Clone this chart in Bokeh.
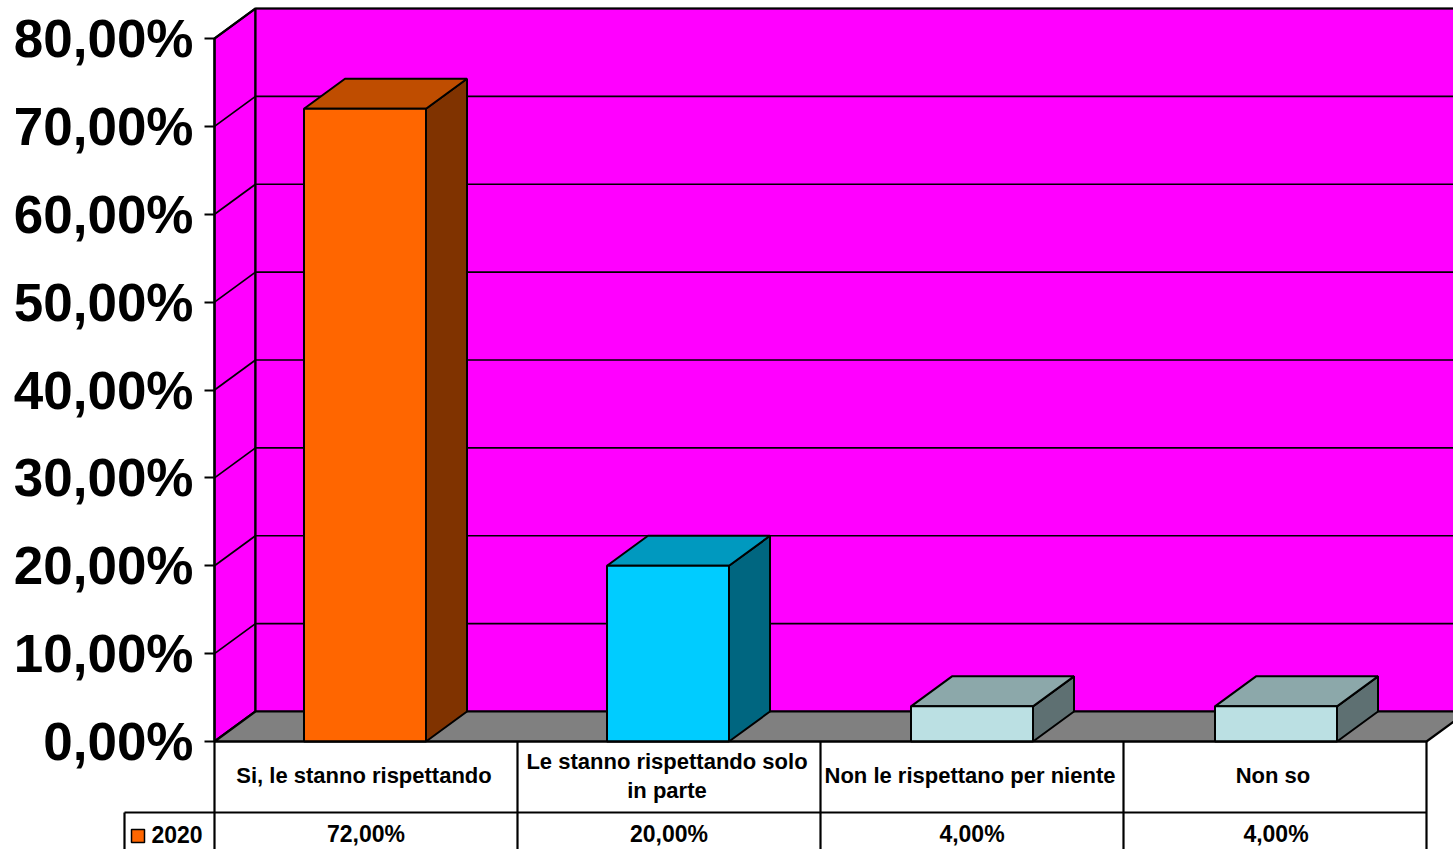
from bokeh.plotting import figure
from bokeh.models import LinearAxis, FixedTicker, Range1d
from bokeh.core.properties import value
from bokeh.embed import file_html
from bokeh.resources import INLINE

categories = ["Si, le stanno rispettando", "Le stanno rispettando solo\nin parte",
              "Non le rispettano per niente", "Non so"]
values = [72, 20, 4, 4]
value_labels = ["72,00%", "20,00%", "4,00%", "4,00%"]
series_name = "2020"
y_ticks = [0, 10, 20, 30, 40, 50, 60, 70, 80]
y_tick_labels = ["0,00%", "10,00%", "20,00%", "30,00%", "40,00%", "50,00%", "60,00%", "70,00%", "80,00%"]
front_colors = ["#FF6600", "#00CCFF", "#BBE0E3", "#BBE0E3"]
top_colors = ["#BF4D00", "#0099BF", "#8CA8AA", "#8CA8AA"]
side_colors = ["#803300", "#006680", "#5E7072", "#5E7072"]

# layout: screen pixel -> data conversion
SLOT = 303.0
UNIT = 703 / 80
PX0, PY0 = 214.0, 741.0
W, H = 1453, 849
def dx(px): return px / SLOT
def dy(px): return px / UNIT
def X(px): return (px - PX0) / SLOT
def Y(px): return (PY0 - px) / UNIT

DX, DY = dx(41), dy(30)
BAR = 122 / 303
BAR_NUDGE = [dx(-1), dx(-1), dx(0), dx(1)]
LABEL_NUDGE = [dx(-2), dx(-2), dx(-2), dx(-2)]
VALUE_NUDGE = [dx(0), dx(0), dx(0), dx(1)]
n = len(categories)
top = y_ticks[-1]

p = figure(width=W, height=H, output_backend="svg", toolbar_location=None,
           x_range=Range1d(X(0), X(W)), y_range=Range1d(Y(H), Y(0)),
           min_border=0, outline_line_color=None, background_fill_color="white",
           border_fill_color="white", x_axis_type=None, y_axis_type=None)
p.grid.visible = False

LW = 2.2
# walls and floor
p.patch([0, DX, DX, 0], [0, DY, top + DY, top], fill_color="#FF00FF", line_color="black", line_width=LW)
p.patch([DX, n + DX, n + DX, DX], [DY, DY, top + DY, top + DY], fill_color="#FF00FF", line_color="black", line_width=LW)
p.segment([0] * 8, y_ticks[1:], [DX] * 8, [t + DY for t in y_ticks[1:]], line_color="black", line_width=1.7)
p.segment([DX] * 8, [t + DY for t in y_ticks[1:]], [n + DX] * 8, [t + DY for t in y_ticks[1:]], line_color="black", line_width=1.7)
p.patch([0, n, n + DX, DX], [0, 0, DY, DY], fill_color="#808080", line_color="black", line_width=LW)

# bars
for i, v in enumerate(values):
    l = i + 0.5 - BAR / 2 + BAR_NUDGE[i]
    r = i + 0.5 + BAR / 2 + BAR_NUDGE[i]
    p.patch([r, r + DX, r + DX, r], [0, DY, v + DY, v], fill_color=side_colors[i], line_color="black", line_width=2)
    p.patch([l, r, r + DX, l + DX], [v, v, v + DY, v + DY], fill_color=top_colors[i], line_color="black", line_width=2)
    p.patch([l, r, r, l], [0, 0, v, v], fill_color=front_colors[i], line_color="black", line_width=2)

# value axis
ax = LinearAxis(ticker=FixedTicker(ticks=y_ticks), fixed_location=0, bounds=(0, top),
                major_label_overrides={t: s for t, s in zip(y_ticks, y_tick_labels)})
ax.axis_line_color = "black"
ax.axis_line_width = LW
ax.major_tick_line_color = "black"
ax.major_tick_line_width = LW
ax.major_tick_out = 10
ax.major_tick_in = 0
ax.minor_tick_line_color = None
ax.major_label_standoff = 11
ax.major_label_text_font = "Liberation Sans"
ax.major_label_text_font_style = "bold"
ax.major_label_text_font_size = "53px"
ax.major_label_text_color = "black"
p.add_layout(ax, "left")

# data table
row1, bottom = Y(812), Y(H + 10)
xs = list(range(n + 1))
p.segment(xs, [0] * (n + 1), xs, [bottom] * (n + 1), line_color="black", line_width=LW)
p.segment([X(124)], [row1], [n], [row1], line_color="black", line_width=LW)
p.segment([0], [0], [n], [0], line_color="black", line_width=LW)
p.segment([X(124)], [row1], [X(124)], [bottom], line_color="black", line_width=LW)
centers = [i + 0.5 for i in range(n)]
p.text([c + o for c, o in zip(centers, LABEL_NUDGE)], [Y(775.4)] * n, text=categories, text_align="center", text_baseline="middle",
       text_font=value("Liberation Sans"), text_font_style="bold", text_font_size="22px",
       text_color="black", text_line_height=1.19)
p.text([c + o for c, o in zip(centers, VALUE_NUDGE)], [Y(833)] * n, text=value_labels, text_align="center", text_baseline="middle",
       text_font=value("Liberation Sans"), text_font_style="bold", text_font_size="23px", text_color="black")
p.quad(left=[X(131)], right=[X(144)], bottom=[Y(842)], top=[Y(829)], fill_color=front_colors[0],
       line_color="black", line_width=1.5)
p.text([X(151)], [Y(834)], text=[series_name], text_align="left", text_baseline="middle",
       text_font=value("Liberation Sans"), text_font_style="bold", text_font_size="23px", text_color="black")

open("out.html", "w").write(file_html(p, INLINE))
